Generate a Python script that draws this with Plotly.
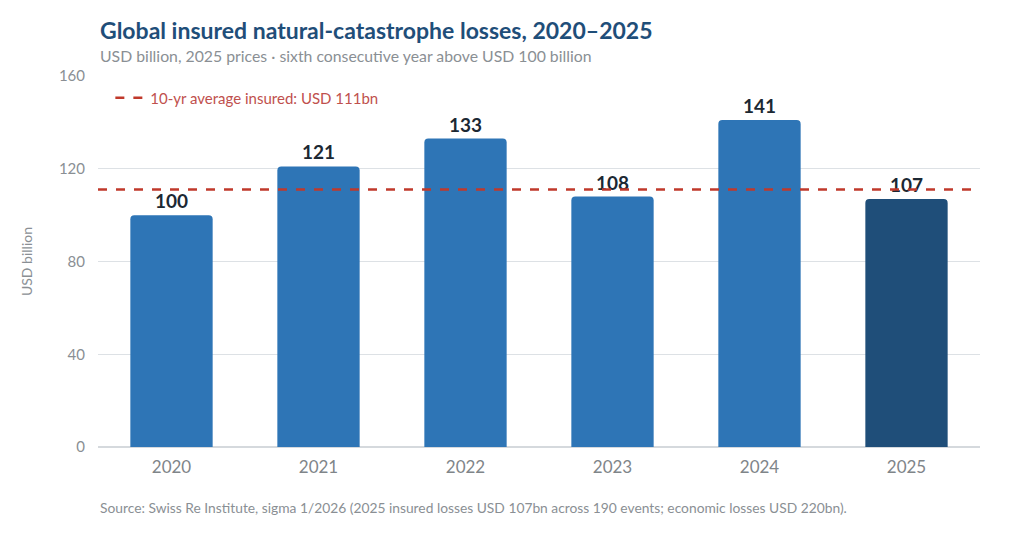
import plotly.graph_objects as go

# values
years = ["2020", "2021", "2022", "2023", "2024", "2025"]
insured_losses = [100, 121, 133, 108, 141, 107]
ten_year_avg = 111
y_ticks = [0, 40, 80, 120, 160]

BAR_COLOR = "#2E75B6"
LATEST_COLOR = "#1F4E79"
AVG_COLOR = "#C0392B"
GREY = "#8a8f94"
FONT = "Lato, 'Open Sans', sans-serif"


def main():
    bar_colors = [BAR_COLOR] * (len(years) - 1) + [LATEST_COLOR]

    fig = go.Figure()
    fig.add_trace(
        go.Bar(
            x=years,
            y=insured_losses,
            marker=dict(color=bar_colors, line=dict(width=0)),
            text=[str(v) for v in insured_losses],
            textposition="outside",
            textfont=dict(size=19, color="#1c2833", family=FONT, weight="bold"),
            cliponaxis=False,
            showlegend=False,
            hoverinfo="x+y",
        )
    )

    # 10-yr average reference line across the whole plot
    fig.add_shape(
        type="line",
        xref="paper",
        x0=0,
        x1=1,
        yref="y",
        y0=ten_year_avg,
        y1=ten_year_avg,
        line=dict(color=AVG_COLOR, width=2.5, dash="dash"),
        layer="above",
        showlegend=True,
        name=f"10-yr average insured: USD {ten_year_avg}bn",
    )

    # page body adds an 8px offset, so margins are shifted to compensate
    fig.update_layout(
        width=1024,
        height=545,
        paper_bgcolor="white",
        plot_bgcolor="white",
        font=dict(family=FONT, color=GREY, size=14),
        margin=dict(l=90, r=52, t=68, b=106, autoexpand=False),
        bargap=0.44,
        barcornerradius=4,
        legend=dict(
            x=0.014,
            y=0.985,
            xanchor="left",
            yanchor="top",
            bgcolor="rgba(0,0,0,0)",
            font=dict(size=15, color="#c0504d", family=FONT),
        ),
        xaxis=dict(
            tickfont=dict(size=17, color="#7f8589"),
            showgrid=False,
            ticks="",
            showline=False,
            ticklabelstandoff=8,
            automargin=False,
        ),
        yaxis=dict(
            range=[0, 160],
            tickvals=y_ticks,
            tickfont=dict(size=15, color=GREY),
            gridcolor="#dde1e5",
            gridwidth=1,
            zeroline=True,
            zerolinecolor="#d5d9dd",
            zerolinewidth=2,
            ticks="",
            ticklabelstandoff=12,
            automargin=False,
            title=dict(text="USD billion", font=dict(size=14, color=GREY), standoff=22),
        ),
        annotations=[
            dict(
                text="<b>Global insured natural-catastrophe losses, 2020–2025</b>",
                xref="paper",
                yref="paper",
                x=0,
                y=1 + 46 / 371,
                xanchor="left",
                yanchor="middle",
                showarrow=False,
                font=dict(size=23, color="#1F4E79", family=FONT),
            ),
            dict(
                text="USD billion, 2025 prices · sixth consecutive year above USD 100 billion",
                xref="paper",
                yref="paper",
                x=0,
                y=1 + 21 / 371,
                xanchor="left",
                yanchor="middle",
                showarrow=False,
                font=dict(size=15.8, color=GREY, family=FONT),
            ),
            dict(
                text="Source: Swiss Re Institute, sigma 1/2026 (2025 insured losses USD 107bn "
                "across 190 events; economic losses USD 220bn).",
                xref="paper",
                yref="paper",
                x=0,
                y=-60 / 371,
                xanchor="left",
                yanchor="middle",
                showarrow=False,
                font=dict(size=13.8, color=GREY),
            ),
        ],
    )

    fig.write_html("out.html")


if __name__ == "__main__":
    main()
